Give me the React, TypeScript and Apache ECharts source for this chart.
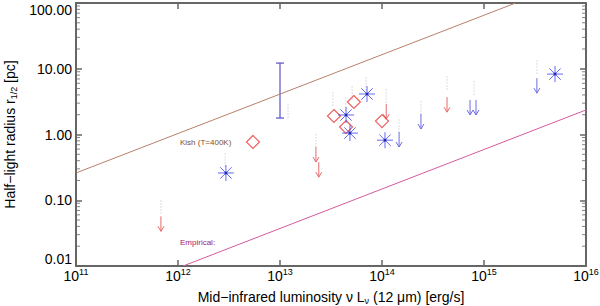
import React, { useEffect, useRef } from "react";
import * as echarts from "echarts";

// ---- data ----
// blue asterisks: [L (erg/s), r (pc)]
const asterisks: [number, number][] = [
  [2.95e12, 0.26],
  [4.44e13, 1.98],
  [7.13e13, 4.13],
  [4.85e13, 1.05],
  [1.07e14, 0.82],
  [4.97e15, 8.3],
];
// red diamonds
const diamonds: [number, number][] = [
  [5.43e12, 0.77],
  [3.38e13, 1.91],
  [5.3e13, 3.12],
  [4.44e13, 1.3],
  [1.0e14, 1.6],
];
// upper limits (top of arrow)
const redLimits: [number, number][] = [
  [6.8e11, 0.057],
  [2.25e13, 0.645],
  [2.4e13, 0.38],
  [4.34e14, 3.7],
  [1.1e14, 2.9],
];
const blueLimits: [number, number][] = [
  [1.47e14, 1.09],
  [2.41e14, 2.05],
  [7.3e14, 3.35],
  [8.35e14, 3.35],
  [3.3e15, 7.2],
];
// error bar [L, low, high]
const errorBars: [number, number, number][] = [[1.0e13, 1.78, 12.2]];
// faint source-name labels (tiny gray text)
const nameMarks: [number, number][] = [
  [2.9e12, 0.41],
  [6.8e11, 0.079],
  [2.25e13, 0.8],
  [1.2e13, 2.27],
  [3.3e13, 3.47],
  [5.1e13, 4.27],
  [6.97e13, 5.86],
  [4.4e13, 2.91],
  [1.1e14, 3.86],
  [1.47e14, 1.35],
  [2.41e14, 2.53],
  [4.34e14, 6.07],
  [8.0e14, 5.1],
  [3.3e15, 10.6],
];
// relations
const brownLine: [number, number][] = [
  [1e11, 0.26],
  [Math.pow(10, 15.31), 100],
];
const pinkLine: [number, number][] = [
  [Math.pow(10, 12.05), 0.01],
  [1e16, 2.36],
];
const minorYTicks = [
  0.02, 0.03, 0.04, 0.05, 0.06, 0.07, 0.08, 0.09,
  0.2, 0.3, 0.4, 0.5, 0.6, 0.7, 0.8, 0.9,
  2, 3, 4, 5, 6, 7, 8, 9,
  20, 30, 40, 50, 60, 70, 80, 90,
];
const xMin = 1e11;
const xMax = 1e16;
const yMin = 0.01;
const yMax = 100;

const FONT = "Liberation Sans, Arial, Helvetica, sans-serif";
const AXIS_COLOR = "#666";

function arrowSeries(name: string, data: [number, number][], color: string) {
  return {
    name,
    type: "custom",
    data,
    renderItem: (params: any, api: any) => {
      const p = api.coord([api.value(0), api.value(1)]);
      const len = 15;
      return {
        type: "group",
        children: [
          {
            type: "line",
            shape: { x1: p[0], y1: p[1], x2: p[0], y2: p[1] + len },
            style: { stroke: color, lineWidth: 1 },
          },
          {
            type: "polyline",
            shape: {
              points: [
                [p[0] - 3, p[1] + len - 5],
                [p[0], p[1] + len],
                [p[0] + 3, p[1] + len - 5],
              ],
            },
            style: { stroke: color, fill: "none", lineWidth: 1 },
          },
        ],
      };
    },
  };
}

export default function App() {
  const ref = useRef<HTMLDivElement>(null);
  useEffect(() => {
    if (!ref.current) return;
    const chart = echarts.init(ref.current, undefined, { renderer: "svg" });
    const xAxisCommon = {
      type: "log",
      logBase: 10,
      min: xMin,
      max: xMax,
      splitLine: { show: false },
      axisLine: { show: true, lineStyle: { color: AXIS_COLOR, width: 2 } },
      axisTick: { show: true, inside: true, length: 6, lineStyle: { color: AXIS_COLOR, width: 1.5 } },
    };
    const yAxisCommon = {
      type: "log",
      logBase: 10,
      min: yMin,
      max: yMax,
      splitLine: { show: false },
      axisLine: { show: true, lineStyle: { color: AXIS_COLOR, width: 2 } },
      axisTick: { show: true, inside: true, length: 6, lineStyle: { color: AXIS_COLOR, width: 1.5 } },
    };
    const nameStyle = {
      fontSize: 14,
      fontFamily: FONT,
      color: "#000",
      lineHeight: 16,
      rich: {
        sub: { fontSize: 9, fontFamily: FONT, color: "#000", verticalAlign: "bottom", lineHeight: 16 },
      },
    };
    const option: any = {
      animation: false,
      backgroundColor: "#fff",
      grid: { left: 76, right: 14, top: 3, bottom: 40, containLabel: false, outerBoundsMode: "none" },
      xAxis: [
        {
          ...xAxisCommon,
          position: "bottom",
          name: "Mid−infrared luminosity ν L{sub|ν} (12 μm) [erg/s]",
          nameLocation: "middle",
          nameGap: 23,
          nameMoveOverlap: false,
          nameTextStyle: nameStyle,
          axisLabel: {
            margin: 1,
            formatter: (v: number) => `{b|10}{s|${Math.round(Math.log10(v))}}`,
            rich: {
              b: { fontSize: 14, fontFamily: FONT, color: "#000", lineHeight: 18 },
              s: { fontSize: 9, fontFamily: FONT, color: "#000", verticalAlign: "top", lineHeight: 18 },
            },
          },
        },
        {
          ...xAxisCommon,
          position: "top",
          axisLabel: { show: false },
        },
      ],
      yAxis: [
        {
          ...yAxisCommon,
          position: "left",
          name: "Half−light radius r{sub|1/2} [pc]",
          nameLocation: "middle",
          nameGap: 58,
          nameMoveOverlap: false,
          nameRotate: 90,
          nameTextStyle: nameStyle,
          axisLabel: {
            margin: 4,
            fontSize: 14,
            fontFamily: FONT,
            color: "#000",
            verticalAlignMinLabel: "bottom",
            verticalAlignMaxLabel: "top",
            formatter: (v: number) => v.toFixed(2),
          },
        },
        {
          ...yAxisCommon,
          position: "right",
          axisLabel: { show: false },
        },
      ],
      graphic: [
        {
          type: "text",
          x: 180,
          y: 138,
          style: { text: "Kish (T=400K)", fontSize: 8, fontFamily: FONT, fill: "#7a5030" },
        },
        {
          type: "text",
          x: 180,
          y: 238,
          style: { text: "Empirical:", fontSize: 8, fontFamily: FONT, fill: "#a02080" },
        },
      ],
      series: [
        {
          name: "brown",
          type: "line",
          data: brownLine,
          symbol: "none",
          lineStyle: { color: "#b8806a", width: 1 },
          clip: true,
        },
        {
          name: "pink",
          type: "line",
          data: pinkLine,
          symbol: "none",
          lineStyle: { color: "#d45a9c", width: 1 },
          clip: true,
        },
        {
          name: "names",
          type: "scatter",
          data: nameMarks,
          symbol: "path://M0,0h1v1h-1z M0,3h1v1h-1z M0,6h1v1h-1z M0,9h1v1h-1z M0,12h1v1h-1z",
          symbolSize: [1.5, 13],
          itemStyle: { color: "#c8c8c8" },
          z: 1,
        },
        arrowSeries("redLimits", redLimits, "#e86a6a"),
        arrowSeries("blueLimits", blueLimits, "#6c6ce0"),
        {
          name: "errorbar",
          type: "custom",
          data: errorBars,
          renderItem: (params: any, api: any) => {
            const x = api.value(0);
            const lo = api.coord([x, api.value(1)]);
            const hi = api.coord([x, api.value(2)]);
            const c = "#5a50cc";
            return {
              type: "group",
              children: [
                { type: "line", shape: { x1: lo[0], y1: lo[1], x2: hi[0], y2: hi[1] }, style: { stroke: c, lineWidth: 1.2 } },
                { type: "line", shape: { x1: lo[0] - 4, y1: lo[1], x2: lo[0] + 4, y2: lo[1] }, style: { stroke: c, lineWidth: 1.2 } },
                { type: "line", shape: { x1: hi[0] - 4, y1: hi[1], x2: hi[0] + 4, y2: hi[1] }, style: { stroke: c, lineWidth: 1.2 } },
              ],
            };
          },
        },
        {
          name: "diamonds",
          type: "scatter",
          data: diamonds,
          symbol: "diamond",
          symbolSize: 13,
          itemStyle: { color: "transparent", borderColor: "#e83a3a", borderWidth: 1.2 },
        },
        {
          name: "asterisks",
          type: "scatter",
          data: asterisks,
          symbol: "path://M8,0L8,16M0,8L16,8M2.3,2.3L13.7,13.7M2.3,13.7L13.7,2.3",
          symbolSize: 16,
          itemStyle: { color: "transparent", borderColor: "#3c46f0", borderWidth: 1 },
        },
        {
          name: "asteriskCenters",
          type: "scatter",
          data: asterisks,
          symbol: "circle",
          symbolSize: 3,
          itemStyle: { color: "#1a1aa0" },
        },
        {
          name: "minorLeft",
          type: "scatter",
          data: minorYTicks.map((v) => [xMin, v]),
          symbol: "rect",
          symbolSize: [4, 1],
          symbolOffset: [2, 0],
          itemStyle: { color: AXIS_COLOR },
          clip: false,
          silent: true,
        },
        {
          name: "minorRight",
          type: "scatter",
          data: minorYTicks.map((v) => [xMax, v]),
          symbol: "rect",
          symbolSize: [4, 1],
          symbolOffset: [-2, 0],
          itemStyle: { color: AXIS_COLOR },
          clip: false,
          silent: true,
        },
      ],
    };
    chart.setOption(option);
    return () => chart.dispose();
  }, []);
  return (
    <div
      ref={ref}
      style={{ position: "fixed", left: 0, top: 0, width: 600, height: 306, background: "#fff" }}
    />
  );
}
